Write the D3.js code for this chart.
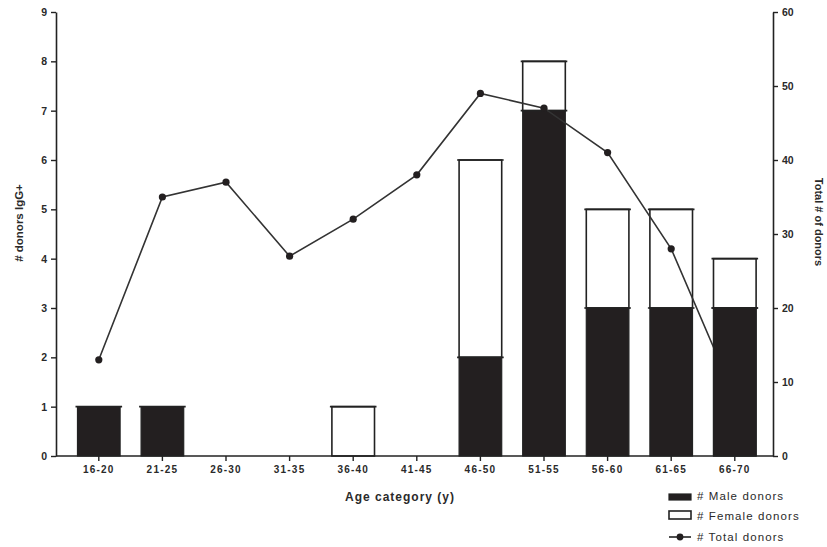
<!DOCTYPE html>
<html>
<head>
<meta charset="utf-8">
<script src="https://cdn.jsdelivr.net/npm/d3@7"></script>
<style>
  body { margin: 0; background: #fff; }
  text { font-family: "Liberation Sans", Arial, sans-serif; fill: #2a2a2a; }
</style>
</head>
<body>
<svg id="chart" width="827" height="547"></svg>
<script>
// age groups and donor counts
const categories = ['16-20', '21-25', '26-30', '31-35', '36-40', '41-45', '46-50', '51-55', '56-60', '61-65', '66-70'];
const maleDonors = [1, 1, 0, 0, 0, 0, 2, 7, 3, 3, 3];
const femaleDonors = [0, 0, 0, 0, 1, 0, 4, 1, 2, 2, 1];
const totalDonors = [13, 35, 37, 27, 32, 38, 49, 47, 41, 28, 8];
const leftTicks = [0, 1, 2, 3, 4, 5, 6, 7, 8, 9];
const rightTicks = [0, 10, 20, 30, 40, 50, 60];

const svg = d3.select('#chart');
const axisLeftX = 56, axisRightX = 773, plotTop = 12, plotBottom = 456;

const x = d3.scaleBand().domain(categories).range([67, 766.6]).paddingInner(0.33).paddingOuter(0.165);
const yL = d3.scaleLinear().domain([0, 9]).range([plotBottom, plotTop]);
const yR = d3.scaleLinear().domain([0, 60]).range([plotBottom, plotTop]);

const rows = categories.map((c, i) => ({ cat: c, male: maleDonors[i], female: femaleDonors[i], total: totalDonors[i] }));

// draws stacked segments with the little caps on the top edge
function drawBars(g, data, lo, hi, fill, sw) {
  g.selectAll(null).data(data).join('rect')
    .attr('x', d => x(d.cat))
    .attr('y', d => yL(hi(d)))
    .attr('width', x.bandwidth())
    .attr('height', d => yL(lo(d)) - yL(hi(d)))
    .attr('fill', fill).attr('stroke', '#222').attr('stroke-width', sw);
  g.selectAll(null).data(data).join('line')
    .attr('x1', d => x(d.cat) - 2).attr('x2', d => x(d.cat) + x.bandwidth() + 2)
    .attr('y1', d => yL(hi(d))).attr('y2', d => yL(hi(d)))
    .attr('stroke', '#222').attr('stroke-width', 1.6);
}

const bars = svg.append('g');
drawBars(bars, rows.filter(d => d.female > 0), d => d.male, d => d.male + d.female, '#fff', 1.6);
drawBars(bars, rows.filter(d => d.male > 0), d => 0, d => d.male, '#231f20', 1.2);

// total donors line
const cx = d => x(d.cat) + x.bandwidth() / 2;
svg.append('path').datum(rows)
  .attr('fill', 'none').attr('stroke', '#333').attr('stroke-width', 1.6)
  .attr('d', d3.line().x(cx).y(d => yR(d.total)));
svg.append('g').selectAll('circle').data(rows).join('circle')
  .attr('cx', cx).attr('cy', d => yR(d.total)).attr('r', 3.6).attr('fill', '#231f20');

// male bars hide the end of the line where it dips into them
drawBars(svg.append('g'), rows.filter(d => d.male > 0 && yR(d.total) > yL(d.male)), d => 0, d => d.male, '#231f20', 1.2);

// axes
function styleAxis(g) {
  g.select('.domain').attr('stroke', '#222').attr('stroke-width', 1.6);
  g.selectAll('.tick line').attr('stroke', '#222').attr('stroke-width', 1.4);
  g.selectAll('.tick text').attr('font-size', 10.5).attr('font-weight', 'bold').attr('fill', '#2a2a2a');
}
svg.append('g').attr('transform', `translate(${axisLeftX},0)`)
  .call(d3.axisLeft(yL).tickValues(leftTicks).tickSize(5).tickSizeOuter(0).tickPadding(4))
  .call(styleAxis);
svg.append('g').attr('transform', `translate(${axisRightX},0)`)
  .call(d3.axisRight(yR).tickValues(rightTicks).tickSize(5).tickSizeOuter(0).tickPadding(4))
  .call(styleAxis);
const xa = svg.append('g').attr('transform', `translate(0,${plotBottom})`)
  .call(d3.axisBottom(x).tickSize(5).tickSizeOuter(0).tickPadding(5))
  .call(styleAxis);
xa.select('.domain').attr('d', `M${axisLeftX},0H${axisRightX}`);
xa.selectAll('.tick text').attr('font-size', 10).attr('letter-spacing', 1.2);

// axis titles
svg.append('text').attr('transform', 'translate(23,223) rotate(-90)')
  .attr('text-anchor', 'middle').attr('font-size', 11.5).attr('font-weight', 'bold').text('# donors IgG+');
svg.append('text').attr('transform', 'translate(815,222) rotate(90)')
  .attr('text-anchor', 'middle').attr('font-size', 11).attr('font-weight', 'bold').text('Total # of donors');
svg.append('text').attr('x', 400).attr('y', 501)
  .attr('text-anchor', 'middle').attr('font-size', 12).attr('font-weight', 'bold')
  .attr('letter-spacing', 1).text('Age category (y)');

// legend
const legend = svg.append('g');
legend.append('rect').attr('x', 669).attr('y', 494).attr('width', 22).attr('height', 6)
  .attr('fill', '#231f20').attr('stroke', '#222').attr('stroke-width', 1.2);
legend.append('rect').attr('x', 669).attr('y', 511).attr('width', 22).attr('height', 8)
  .attr('fill', '#fff').attr('stroke', '#222').attr('stroke-width', 1.6);
legend.append('line').attr('x1', 669).attr('x2', 691).attr('y1', 537).attr('y2', 537)
  .attr('stroke', '#222').attr('stroke-width', 1.6);
legend.append('circle').attr('cx', 680).attr('cy', 537).attr('r', 3.4).attr('fill', '#231f20');
const labels = ['# Male donors', '# Female donors', '# Total donors'];
const labelY = [500, 520, 541];
legend.selectAll('.lbl').data(labels).join('text')
  .attr('x', 697).attr('y', (d, i) => labelY[i])
  .attr('font-size', 11.5).attr('letter-spacing', 1.1).text(d => d);
</script>
</body>
</html>
